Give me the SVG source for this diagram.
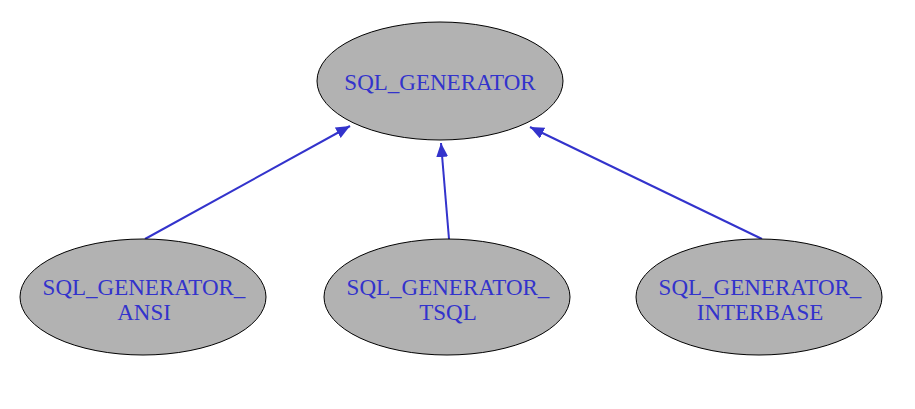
<svg xmlns="http://www.w3.org/2000/svg" width="915" height="409" viewBox="0 0 915 409">
<style>
.node ellipse{fill:#b2b2b2;stroke:#000;stroke-width:1}
.node text{font-family:"Liberation Serif","Times New Roman",serif;font-size:23px;fill:#3333cc;text-anchor:middle}
.edge{stroke:#3333cc;stroke-width:2;fill:none}
</style>
<defs>
<marker id="arr" markerWidth="16" markerHeight="14" refX="14" refY="6" orient="auto" markerUnits="userSpaceOnUse">
<path d="M0,0 L14,6 L0,12 Z" fill="#3333cc"/>
</marker>
</defs>
<rect width="915" height="409" fill="#fff"/>
<g id="connectors">
<line class="edge" x1="145" y1="239" x2="350" y2="126" marker-end="url(#arr)"/>
<line class="edge" x1="449" y1="239" x2="441" y2="143" marker-end="url(#arr)"/>
<line class="edge" x1="762" y1="239" x2="530" y2="127" marker-end="url(#arr)"/>
</g>
<g id="SQL_GENERATOR" class="node">
<ellipse cx="440" cy="81" rx="123" ry="59"/>
<text x="440" y="90">SQL_GENERATOR</text>
</g>
<g id="SQL_GENERATOR_ANSI" class="node">
<ellipse cx="143" cy="297" rx="123" ry="58"/>
<text x="144" y="295">SQL_GENERATOR_</text>
<text x="144" y="320">ANSI</text>
</g>
<g id="SQL_GENERATOR_TSQL" class="node">
<ellipse cx="447" cy="297" rx="123" ry="58"/>
<text x="448" y="295">SQL_GENERATOR_</text>
<text x="448" y="320">TSQL</text>
</g>
<g id="SQL_GENERATOR_INTERBASE" class="node">
<ellipse cx="759" cy="297" rx="123" ry="58"/>
<text x="760" y="295">SQL_GENERATOR_</text>
<text x="760" y="320">INTERBASE</text>
</g>
</svg>
